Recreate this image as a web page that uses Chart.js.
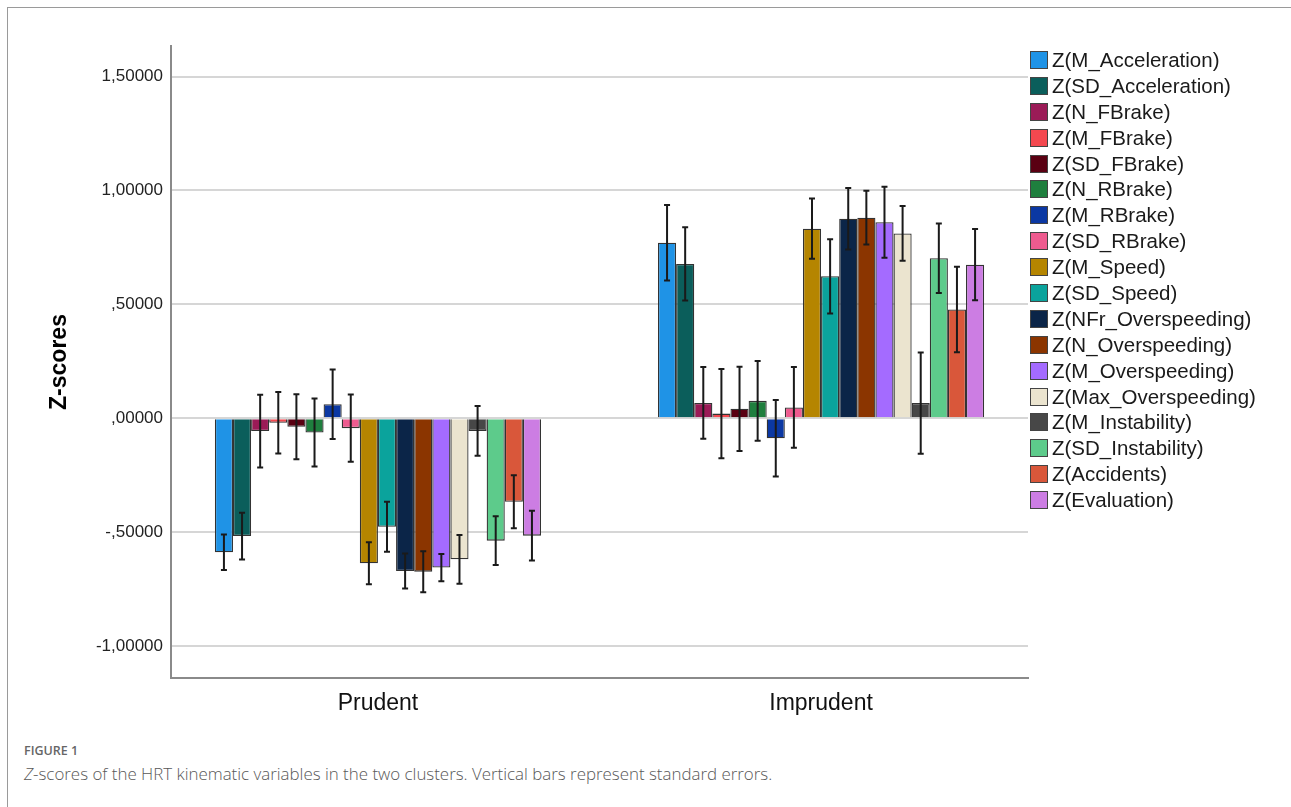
<!DOCTYPE html>
<html>
<head>
<meta charset="utf-8">
<script src="https://cdn.jsdelivr.net/npm/chart.js@4.4.1/dist/chart.umd.min.js"></script>
<style>
  body { margin: 0; background: #fff; width: 1291px; height: 807px; overflow: hidden; position: relative; }
  .frame { position: absolute; left: 7px; top: 7px; right: -2px; bottom: -2px; border-top: 1.5px solid #9a9a9a; border-left: 1.5px solid #9a9a9a; }
  .chart-box { position: absolute; left: 0; top: 0; width: 1291px; height: 720px; }
  #legend { position: absolute; left: 1030px; top: 47px; font-family: "Liberation Sans", Arial, sans-serif; font-size: 20.5px; color: #1a1a1a; }
  #legend .item { height: 25.9px; display: flex; align-items: center; white-space: nowrap; }
  #legend .sw { width: 18px; height: 18px; border: 1px solid #444; margin-right: 4px; box-sizing: border-box; }
  .fig { position: absolute; left: 24px; top: 742px; font-family: "Open Sans", sans-serif; font-size: 12.5px; font-weight: 600; color: #666; }
  .cap { position: absolute; left: 24px; top: 762px; font-family: "Open Sans", sans-serif; font-size: 16.9px; color: #585858; font-weight: 300; }
</style>
</head>
<body>
<div class="frame"></div>
<div class="chart-box"><canvas id="zChart"></canvas></div>
<div id="legend"></div>
<div class="fig">FIGURE 1</div>
<div class="cap"><i>Z</i>-scores of the HRT kinematic variables in the two clusters. Vertical bars represent standard errors.</div>
<script>
const clusters = ['Prudent', 'Imprudent'];

const variables = [
  'Z(M_Acceleration)', 'Z(SD_Acceleration)', 'Z(N_FBrake)', 'Z(M_FBrake)', 'Z(SD_FBrake)',
  'Z(N_RBrake)', 'Z(M_RBrake)', 'Z(SD_RBrake)', 'Z(M_Speed)', 'Z(SD_Speed)',
  'Z(NFr_Overspeeding)', 'Z(N_Overspeeding)', 'Z(M_Overspeeding)', 'Z(Max_Overspeeding)',
  'Z(M_Instability)', 'Z(SD_Instability)', 'Z(Accidents)', 'Z(Evaluation)',
];

const prudentMeans = [
  -0.589, -0.518, -0.057, -0.020, -0.038, -0.063, 0.061, -0.044, -0.637,
  -0.477, -0.671, -0.674, -0.656, -0.620, -0.056, -0.538, -0.367, -0.516,
];
const prudentSE = [
  0.078, 0.103, 0.160, 0.135, 0.143, 0.149, 0.153, 0.148, 0.092,
  0.110, 0.077, 0.090, 0.060, 0.107, 0.109, 0.107, 0.116, 0.109,
];

const imprudentMeans = [
  0.770, 0.677, 0.067, 0.020, 0.041, 0.076, -0.088, 0.047, 0.832,
  0.623, 0.876, 0.880, 0.860, 0.811, 0.066, 0.702, 0.477, 0.674,
];
const imprudentSE = [
  0.166, 0.161, 0.157, 0.196, 0.185, 0.175, 0.168, 0.177, 0.132,
  0.163, 0.135, 0.118, 0.156, 0.120, 0.222, 0.153, 0.188, 0.156,
];

const colors = [
  '#1f93e6', '#0b5e5b', '#9b1b57', '#f4484f', '#5a0012', '#1f7f3e', '#0b38a3', '#ee5b8f', '#b58500',
  '#0ba39c', '#0b2548', '#8b3500', '#a46bff', '#ebe4cf', '#474747', '#5dcb8b', '#d9573a', '#cc7de3',
];

const yTicks = [-1, -0.5, 0, 0.5, 1, 1.5];

// SPSS style: 0.5 -> ",50000"
function spssFormat(v) {
  const s = Math.abs(v).toFixed(5).replace('.', ',');
  const body = s.startsWith('0,') ? s.slice(1) : s;
  return (v < 0 ? '-' : '') + body;
}

const datasets = variables.map((name, i) => ({
  label: name,
  data: [
    { x: 0, y: prudentMeans[i] },
    { x: 1, y: imprudentMeans[i] },
  ],
  se: [prudentSE[i], imprudentSE[i]],
  backgroundColor: colors[i],
  borderColor: '#333',
  borderWidth: 1.3,
}));

const errorBars = {
  id: 'errorBars',
  afterDatasetsDraw(chart) {
    const { ctx } = chart;
    const yScale = chart.scales.y;
    ctx.save();
    ctx.strokeStyle = '#1a1a1a';
    ctx.lineWidth = 2;
    chart.data.datasets.forEach((ds, i) => {
      const meta = chart.getDatasetMeta(i);
      meta.data.forEach((bar, j) => {
        const v = ds.data[j].y;
        const top = yScale.getPixelForValue(v + ds.se[j]);
        const bottom = yScale.getPixelForValue(v - ds.se[j]);
        ctx.beginPath();
        ctx.moveTo(bar.x, top);
        ctx.lineTo(bar.x, bottom);
        ctx.moveTo(bar.x - 3, top);
        ctx.lineTo(bar.x + 3, top);
        ctx.moveTo(bar.x - 3, bottom);
        ctx.lineTo(bar.x + 3, bottom);
        ctx.stroke();
      });
    });
    ctx.restore();
  },
};

const ctx = document.getElementById('zChart');
new Chart(ctx, {
  type: 'bar',
  data: { datasets },
  options: {
    responsive: true,
    maintainAspectRatio: false,
    animation: false,
    layout: { padding: { left: 0, top: 46, right: 263, bottom: 0 } },
    barPercentage: 1,
    categoryPercentage: 0.736,
    plugins: {
      legend: { display: false },
      tooltip: { enabled: false },
    },
    scales: {
      x: {
        type: 'linear',
        offset: false,
        min: -0.467,
        max: 1.467,
        afterBuildTicks: (scale) => { scale.ticks = clusters.map((c, i) => ({ value: i })); },
        afterFit: (scale) => { scale.height = 42; },
        grid: { display: false, drawTicks: false },
        border: { color: '#8a8a8a', width: 2 },
        ticks: {
          padding: 12,
          color: '#111',
          font: { family: '"Liberation Sans", Arial, sans-serif', size: 23 },
          callback: (v) => clusters[v],
        },
      },
      y: {
        min: -1.141,
        max: 1.634,
        afterBuildTicks: (scale) => { scale.ticks = yTicks.map((v) => ({ value: v })); },
        afterFit: (scale) => { scale.width = 171; },
        grid: { color: '#d6d6d6', lineWidth: 2, drawTicks: false },
        border: { color: '#8a8a8a', width: 2 },
        ticks: {
          padding: 8,
          color: '#222',
          font: { family: '"Liberation Sans", Arial, sans-serif', size: 17 },
          callback: (v) => spssFormat(v),
        },
        title: {
          display: true,
          text: 'Z-scores',
          color: '#000',
          padding: { top: 46, bottom: 0 },
          font: { family: '"Liberation Sans", Arial, sans-serif', size: 23, weight: 'bold' },
        },
      },
    },
  },
  plugins: [errorBars],
});

const legendEl = document.getElementById('legend');
variables.forEach((name, i) => {
  const row = document.createElement('div');
  row.className = 'item';
  const sw = document.createElement('span');
  sw.className = 'sw';
  sw.style.background = colors[i];
  const txt = document.createElement('span');
  txt.textContent = name;
  row.appendChild(sw);
  row.appendChild(txt);
  legendEl.appendChild(row);
});
</script>
</body>
</html>
